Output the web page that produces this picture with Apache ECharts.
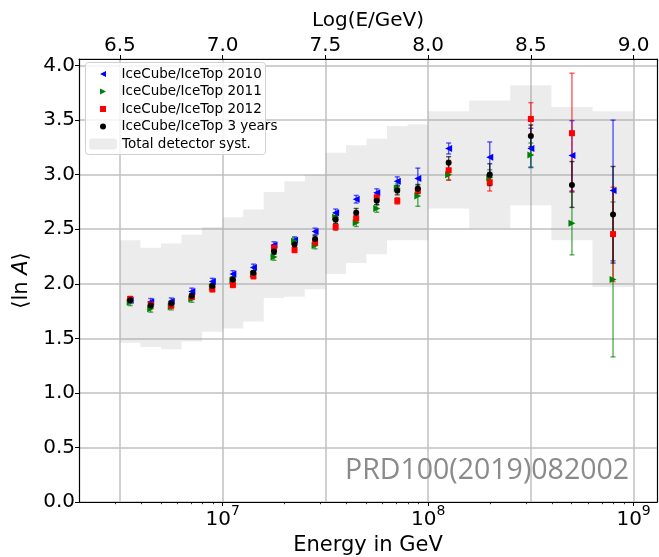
<!DOCTYPE html>
<html>
<head>
<meta charset="utf-8">
<script src="https://cdn.jsdelivr.net/npm/echarts@6/dist/echarts.min.js"></script>
<style>
  html, body { margin: 0; padding: 0; background: #fff; }
  #chart { width: 659px; height: 557px; }
</style>
</head>
<body>
<div id="chart"></div>
<script>
// Bin centres in log10(E/GeV)
const lgE = [6.55, 6.65, 6.75, 6.85, 6.95, 7.05, 7.15, 7.25, 7.35, 7.45,
             7.55, 7.65, 7.75, 7.85, 7.95, 8.1, 8.3, 8.5, 8.7, 8.9];

// <lnA> per data set, with lower / upper statistical errors
const lnA2010 = [1.85, 1.835, 1.84, 1.93, 2.02, 2.09, 2.15, 2.355, 2.40, 2.48,
                 2.65, 2.775, 2.835, 2.94, 2.965, 3.24, 3.16, 3.24, 3.175, 2.855];
const err2010Lo = [0.03, 0.03, 0.03, 0.03, 0.03, 0.03, 0.03, 0.03, 0.03, 0.03,
                   0.035, 0.035, 0.035, 0.04, 0.095, 0.05, 0.14, 0.175, 0.325, 0.645];
const err2010Hi = [0.03, 0.03, 0.03, 0.03, 0.03, 0.03, 0.03, 0.03, 0.03, 0.03,
                   0.035, 0.035, 0.035, 0.04, 0.095, 0.05, 0.14, 0.185, 0.32, 0.645];

const lnA2011 = [1.83, 1.77, 1.79, 1.86, 1.97, 2.03, 2.09, 2.245, 2.39, 2.35,
                 2.61, 2.56, 2.69, 2.875, 2.805, 3.00, 2.975, 3.18, 2.555, 2.04];
const err2011Lo = [0.03, 0.03, 0.03, 0.03, 0.03, 0.03, 0.03, 0.03, 0.03, 0.03,
                   0.035, 0.035, 0.035, 0.04, 0.095, 0.05, 0.07, 0.11, 0.29, 0.71];
const err2011Hi = [0.03, 0.03, 0.03, 0.03, 0.03, 0.03, 0.03, 0.03, 0.03, 0.03,
                   0.035, 0.035, 0.035, 0.04, 0.095, 0.05, 0.07, 0.11, 0.285, 0.71];

const lnA2012 = [1.86, 1.81, 1.80, 1.88, 1.95, 1.99, 2.07, 2.33, 2.31, 2.38,
                 2.52, 2.60, 2.79, 2.76, 2.855, 3.04, 2.93, 3.51, 3.38, 2.455];
const err2012Lo = [0.025, 0.025, 0.025, 0.025, 0.025, 0.025, 0.025, 0.025, 0.025, 0.025,
                   0.03, 0.03, 0.03, 0.03, 0.03, 0.09, 0.08, 0.15, 0.535, 0.435];
const err2012Hi = [0.025, 0.025, 0.025, 0.025, 0.025, 0.025, 0.025, 0.025, 0.025, 0.025,
                   0.03, 0.03, 0.03, 0.03, 0.03, 0.09, 0.08, 0.15, 0.55, 0.43];

const lnA3yr = [1.85, 1.80, 1.82, 1.89, 1.98, 2.04, 2.10, 2.295, 2.36, 2.41,
                2.59, 2.65, 2.76, 2.855, 2.87, 3.11, 3.00, 3.355, 2.905, 2.635];
const err3yrLo = [0.02, 0.02, 0.02, 0.02, 0.02, 0.02, 0.02, 0.025, 0.025, 0.03,
                  0.035, 0.04, 0.035, 0.04, 0.04, 0.055, 0.10, 0.10, 0.205, 0.445];
const err3yrHi = [0.02, 0.02, 0.02, 0.02, 0.02, 0.02, 0.02, 0.025, 0.025, 0.03,
                  0.035, 0.04, 0.035, 0.04, 0.04, 0.055, 0.10, 0.10, 0.215, 0.44];

// Total detector systematic band, per energy bin
const bandFrom = [6.5, 6.6, 6.7, 6.8, 6.9, 7.0, 7.1, 7.2, 7.3, 7.4,
                  7.5, 7.6, 7.7, 7.8, 7.9, 8.0, 8.2, 8.4, 8.6, 8.8];
const bandTo   = [6.6, 6.7, 6.8, 6.9, 7.0, 7.1, 7.2, 7.3, 7.4, 7.5,
                  7.6, 7.7, 7.8, 7.9, 8.0, 8.2, 8.4, 8.6, 8.8, 9.0];
const bandLo   = [1.46, 1.42, 1.40, 1.47, 1.56, 1.59, 1.655, 1.87, 1.88, 1.95,
                  2.09, 2.19, 2.27, 2.40, 2.40, 2.69, 2.51, 2.72, 2.40, 1.97];
const bandHi   = [2.40, 2.33, 2.37, 2.45, 2.52, 2.61, 2.68, 2.84, 2.94, 3.00,
                  3.20, 3.27, 3.33, 3.445, 3.46, 3.58, 3.68, 3.82, 3.62, 3.58];

// Axis ranges and ticks (x in log10 of energy: 2e6 .. 1.3e9 GeV)
const xMin = Math.log10(2e6);
const xMax = Math.log10(1.3e9);
const topTicks = [6.5, 7.0, 7.5, 8.0, 8.5, 9.0];
const decadeTicks = [7, 8, 9];
const minorFactors = [2, 3, 4, 5, 6, 7, 8, 9];
const yTicks = [0, 0.5, 1.0, 1.5, 2.0, 2.5, 3.0, 3.5, 4.0];

const FONT = 'DejaVu Sans';
const bandColor = 'rgba(150,150,150,0.18)';
const gridColor = '#c0c0c0';

const minorTicks = [];
[6, 7, 8, 9].forEach(d => minorFactors.forEach(f => {
  const v = d + Math.log10(f);
  if (v > xMin + 1e-6 && v < xMax) minorTicks.push(v);
}));

const leftTri = 'path://M0,5L10,0L10,10Z';
const rightTri = 'path://M10,5L0,0L0,10Z';
const square = 'path://M0,0L10,0L10,10L0,10Z';

const sets = [
  { name: 'IceCube/IceTop 2010', vals: lnA2010, lo: err2010Lo, hi: err2010Hi, color: '#0000ff', symbol: leftTri, size: 7 },
  { name: 'IceCube/IceTop 2011', vals: lnA2011, lo: err2011Lo, hi: err2011Hi, color: '#008000', symbol: rightTri, size: 7 },
  { name: 'IceCube/IceTop 2012', vals: lnA2012, lo: err2012Lo, hi: err2012Hi, color: '#ff0000', symbol: square, size: 6 },
  { name: 'IceCube/IceTop 3 years', vals: lnA3yr, lo: err3yrLo, hi: err3yrHi, color: '#000000', symbol: 'circle', size: 6 }
];

function errorBarRenderer(color) {
  return function (params, api) {
    const x = api.value(0);
    const top = api.coord([x, api.value(2)]);
    const bot = api.coord([x, api.value(1)]);
    const half = 2.5;
    const style = { stroke: color, lineWidth: 1.4, opacity: 0.65 };
    return {
      type: 'group',
      children: [
        { type: 'line', shape: { x1: top[0], y1: top[1], x2: bot[0], y2: bot[1] }, style },
        { type: 'line', shape: { x1: top[0] - half, y1: top[1], x2: top[0] + half, y2: top[1] }, style },
        { type: 'line', shape: { x1: bot[0] - half, y1: bot[1], x2: bot[0] + half, y2: bot[1] }, style }
      ]
    };
  };
}

const series = [];

series.push({
  name: 'Total detector syst.',
  type: 'custom',
  xAxisIndex: 0,
  yAxisIndex: 0,
  itemStyle: { color: bandColor },
  data: bandFrom.map((x0, i) => [x0, bandTo[i], bandLo[i], bandHi[i]]),
  encode: { x: [0, 1], y: [2, 3] },
  renderItem: function (params, api) {
    const p0 = api.coord([api.value(0), api.value(3)]);
    const p1 = api.coord([api.value(1), api.value(2)]);
    return {
      type: 'rect',
      shape: { x: p0[0], y: p0[1], width: p1[0] - p0[0], height: p1[1] - p0[1] },
      style: { fill: bandColor }
    };
  },
  z: 1,
  silent: true
});

sets.forEach(s => {
  series.push({
    name: s.name + ' errors',
    type: 'custom',
    xAxisIndex: 0,
    yAxisIndex: 0,
    data: lgE.map((x, i) => [x, s.vals[i] - s.lo[i], s.vals[i] + s.hi[i]]),
    encode: { x: 0, y: [1, 2] },
    renderItem: errorBarRenderer(s.color),
    silent: true
  });
  series.push({
    name: s.name,
    type: 'scatter',
    xAxisIndex: 0,
    yAxisIndex: 0,
    symbol: s.symbol,
    symbolSize: s.size,
    itemStyle: { color: s.color, opacity: 1 },
    data: lgE.map((x, i) => [x, s.vals[i]]),
    silent: true
  });
});

const legendText = { fontFamily: FONT, fontSize: 13.5, color: '#000', lineHeight: 14 };
const spine = { show: true, onZero: false, lineStyle: { color: '#000', width: 1.2 } };

const option = {
  backgroundColor: '#ffffff',
  animation: false,
  textStyle: { fontFamily: FONT },
  grid: { left: 79, top: 59, width: 578, bottom: 55, outerBoundsMode: 'none', containLabel: false },
  legend: [
    {
      data: sets.map(s => s.name),
      orient: 'vertical',
      left: 100,
      top: 67,
      padding: 0,
      itemWidth: 27,
      itemHeight: 6,
      itemGap: 3.5,
      symbolKeepAspect: true,
      selectedMode: false,
      textStyle: legendText,
      z: 5
    },
    {
      data: ['Total detector syst.'],
      orient: 'vertical',
      left: 89,
      top: 137,
      padding: 0,
      itemWidth: 28,
      itemHeight: 11,
      selectedMode: false,
      textStyle: legendText,
      z: 5
    }
  ],
  graphic: [
    {
      type: 'rect',
      left: 85,
      top: 62,
      shape: { width: 180, height: 92, r: 3 },
      style: { fill: 'rgba(255,255,255,0.8)', stroke: '#d0d0d0', lineWidth: 1 },
      z: 4,
      silent: true
    },
    {
      type: 'text',
      left: 345,
      top: 456,
      style: { text: 'PRD100(2019)082002', fontFamily: 'Open Sans', fontSize: 28.5, fill: '#8a8a8a' },
      z: 4,
      silent: true
    }
  ],
  xAxis: [
    {
      type: 'value',
      position: 'bottom',
      min: xMin,
      max: xMax,
      name: 'Energy in GeV',
      nameLocation: 'middle',
      nameGap: 33,
      nameTextStyle: { fontFamily: FONT, fontSize: 21, color: '#000' },
      axisLine: spine,
      axisTick: { show: true, inside: false, length: 4, customValues: decadeTicks, lineStyle: { color: '#000', width: 1 } },
      axisLabel: {
        show: true,
        customValues: decadeTicks,
        margin: 2,
        formatter: v => '{b|10}{s|' + Math.round(v) + '}',
        rich: {
          b: { fontFamily: FONT, fontSize: 20, color: '#000', verticalAlign: 'bottom', lineHeight: 26 },
          s: { fontFamily: FONT, fontSize: 14, color: '#000', verticalAlign: 'top', lineHeight: 14 }
        }
      },
      splitLine: { show: false }
    },
    {
      type: 'value',
      position: 'top',
      min: xMin,
      max: xMax,
      name: 'Log(E/GeV)',
      nameLocation: 'middle',
      nameGap: 28,
      nameTextStyle: { fontFamily: FONT, fontSize: 20, color: '#000' },
      axisLine: spine,
      axisTick: { show: true, inside: false, length: 4, customValues: topTicks, lineStyle: { color: '#000', width: 1 } },
      axisLabel: {
        show: true,
        customValues: topTicks,
        margin: 3,
        fontFamily: FONT,
        fontSize: 20,
        color: '#000',
        formatter: v => v.toFixed(1)
      },
      splitLine: { show: true, lineStyle: { color: gridColor, width: 1.5 } }
    },
    {
      type: 'value',
      position: 'bottom',
      min: xMin,
      max: xMax,
      axisLine: { show: false, onZero: false },
      axisTick: { show: true, inside: false, length: 2.2, customValues: minorTicks, lineStyle: { color: '#000', width: 0.8 } },
      axisLabel: { show: false },
      splitLine: { show: false }
    }
  ],
  yAxis: [
    {
      type: 'value',
      position: 'left',
      min: 0,
      max: 4.06,
      interval: 0.5,
      name: '{t|⟨ln }{i|A}{t|⟩}',
      nameLocation: 'middle',
      nameRotate: 90,
      nameGap: 40,
      nameTextStyle: {
        fontFamily: FONT,
        fontSize: 21,
        color: '#000',
        rich: {
          t: { fontFamily: FONT, fontSize: 21, color: '#000' },
          i: { fontFamily: FONT, fontSize: 21, color: '#000', fontStyle: 'italic' }
        }
      },
      axisLine: spine,
      axisTick: { show: true, inside: false, length: 4, lineStyle: { color: '#000', width: 1 } },
      axisLabel: {
        show: true,
        margin: 4,
        fontFamily: FONT,
        fontSize: 20,
        color: '#000',
        showMaxLabel: false,
        formatter: v => (yTicks.some(t => Math.abs(t - v) < 1e-6) ? v.toFixed(1) : '')
      },
      splitLine: { show: true, lineStyle: { color: gridColor, width: 1.5 } }
    },
    {
      // right-hand frame of the axes box
      type: 'value',
      position: 'right',
      min: 0,
      max: 4.06,
      axisLine: spine,
      axisTick: { show: false },
      axisLabel: { show: false },
      splitLine: { show: false }
    }
  ],
  series: series
};

const chart = echarts.init(document.getElementById('chart'), null, { renderer: 'canvas' });
chart.setOption(option);
</script>
</body>
</html>
